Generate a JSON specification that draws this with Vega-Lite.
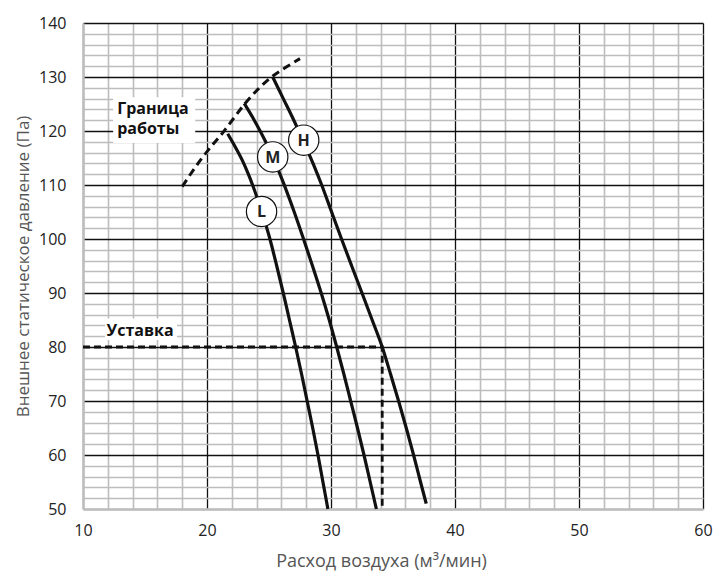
{
  "$schema": "https://vega.github.io/schema/vega-lite/v6.json",
  "width": 620,
  "height": 486,
  "autosize": {"type": "none"},
  "padding": {"left": 83, "top": 23, "right": 10, "bottom": 72},
  "background": "white",
  "config": {
    "view": {"stroke": null},
    "font": "Open Sans",
    "axis": {"labelFont": "Open Sans", "titleFont": "Open Sans"}
  },
  "datasets": {
    "curves": [
      {"s": "L", "i": 1, "x": 21.665, "y": 119.5},
      {"s": "L", "i": 2, "x": 22.29, "y": 117},
      {"s": "L", "i": 3, "x": 22.84, "y": 114.6},
      {"s": "L", "i": 4, "x": 23.335, "y": 112},
      {"s": "L", "i": 5, "x": 23.675, "y": 110},
      {"s": "L", "i": 6, "x": 24.425, "y": 105},
      {"s": "L", "i": 7, "x": 25.075, "y": 100},
      {"s": "L", "i": 8, "x": 25.625, "y": 95},
      {"s": "L", "i": 9, "x": 26.15, "y": 90},
      {"s": "L", "i": 10, "x": 26.65, "y": 85},
      {"s": "L", "i": 11, "x": 27.15, "y": 80},
      {"s": "L", "i": 12, "x": 27.625, "y": 75},
      {"s": "L", "i": 13, "x": 28.075, "y": 70},
      {"s": "L", "i": 14, "x": 28.525, "y": 65},
      {"s": "L", "i": 15, "x": 28.95, "y": 60},
      {"s": "L", "i": 16, "x": 29.35, "y": 55},
      {"s": "L", "i": 17, "x": 29.75, "y": 50},
      {"s": "M", "i": 1, "x": 23.0, "y": 125.1},
      {"s": "M", "i": 2, "x": 23.81, "y": 122},
      {"s": "M", "i": 3, "x": 24.73, "y": 118},
      {"s": "M", "i": 4, "x": 25.33, "y": 115},
      {"s": "M", "i": 5, "x": 25.885, "y": 112},
      {"s": "M", "i": 6, "x": 26.395, "y": 109},
      {"s": "M", "i": 7, "x": 27.035, "y": 105},
      {"s": "M", "i": 8, "x": 27.785, "y": 100},
      {"s": "M", "i": 9, "x": 28.51, "y": 95},
      {"s": "M", "i": 10, "x": 29.21, "y": 90},
      {"s": "M", "i": 11, "x": 29.86, "y": 85},
      {"s": "M", "i": 12, "x": 30.46, "y": 80},
      {"s": "M", "i": 13, "x": 31.035, "y": 75},
      {"s": "M", "i": 14, "x": 31.585, "y": 70},
      {"s": "M", "i": 15, "x": 32.135, "y": 65},
      {"s": "M", "i": 16, "x": 32.66, "y": 60},
      {"s": "M", "i": 17, "x": 33.16, "y": 55},
      {"s": "M", "i": 18, "x": 33.66, "y": 50},
      {"s": "H", "i": 1, "x": 25.3, "y": 130},
      {"s": "H", "i": 2, "x": 26.15, "y": 126},
      {"s": "H", "i": 3, "x": 27.0, "y": 122},
      {"s": "H", "i": 4, "x": 27.8, "y": 118},
      {"s": "H", "i": 5, "x": 28.55, "y": 114},
      {"s": "H", "i": 6, "x": 29.25, "y": 110},
      {"s": "H", "i": 7, "x": 30.05, "y": 105},
      {"s": "H", "i": 8, "x": 30.85, "y": 100},
      {"s": "H", "i": 9, "x": 31.67, "y": 95},
      {"s": "H", "i": 10, "x": 32.5, "y": 90},
      {"s": "H", "i": 11, "x": 33.32, "y": 85},
      {"s": "H", "i": 12, "x": 34.13, "y": 80},
      {"s": "H", "i": 13, "x": 34.8, "y": 75},
      {"s": "H", "i": 14, "x": 35.45, "y": 70},
      {"s": "H", "i": 15, "x": 36.07, "y": 65},
      {"s": "H", "i": 16, "x": 36.66, "y": 60},
      {"s": "H", "i": 17, "x": 37.22, "y": 55},
      {"s": "H", "i": 18, "x": 37.68, "y": 51}
    ],
    "boundary": [
      {"i": 1, "x": 18.0, "y": 109.7},
      {"i": 2, "x": 19.47, "y": 114.6},
      {"i": 3, "x": 20.4, "y": 117.3},
      {"i": 4, "x": 21.33, "y": 119.85},
      {"i": 5, "x": 22.2, "y": 122.5},
      {"i": 6, "x": 23.07, "y": 125.1},
      {"i": 7, "x": 24.1, "y": 127.7},
      {"i": 8, "x": 25.2, "y": 130},
      {"i": 9, "x": 26.3, "y": 131.7},
      {"i": 10, "x": 27.5, "y": 133.4}
    ],
    "setpoint": [
      {"i": 1, "x": 10, "y": 80},
      {"i": 2, "x": 34.13, "y": 80},
      {"i": 3, "x": 34.13, "y": 50}
    ],
    "boxes": [
      {"x": 12.43, "x2": 19.05, "y": 117.8, "y2": 126.25},
      {"x": 11.77, "x2": 17.58, "y": 81.3, "y2": 85.3}
    ],
    "labels": [
      {"x": 12.76, "y": 123.1, "t": "Граница"},
      {"x": 12.76, "y": 119.4, "t": "работы"},
      {"x": 11.9, "y": 82.0, "t": "Уставка"}
    ],
    "badges": [
      {"x": 24.4, "y": 105.1, "t": "L"},
      {"x": 25.3, "y": 115.2, "t": "M"},
      {"x": 27.8, "y": 118.3, "t": "H"}
    ]
  },
  "layer": [
    {
      "data": {"name": "boxes"},
      "mark": {"type": "rect", "fill": "white", "stroke": null},
      "encoding": {
        "x": {
          "field": "x", "type": "quantitative",
          "scale": {"domain": [10, 60], "nice": false, "zero": false},
          "axis": {
            "values": [10,12,14,16,18,20,22,24,26,28,30,32,34,36,38,40,42,44,46,48,50,52,54,56,58,60],
            "tickCount": 200,
            "format": "d",
            "labelExpr": "datum.value % 10 === 0 ? datum.label : ''",
            "labelOverlap": false,
            "grid": true,
            "gridColor": {"condition": {"test": "datum.value % 10 === 0 && datum.value > 10", "value": "#111111"}, "value": "#bdbdbd"},
            "gridWidth": {"condition": {"test": "datum.value % 10 === 0 && datum.value > 10", "value": 1.3}, "value": 1.6},
            "ticks": false,
            "domainColor": "#bdbdbd",
            "domainWidth": 2.5,
            "labelFontSize": 16,
            "labelColor": "#222222",
            "labelPadding": 13,
            "labelFlush": false,
            "title": "Расход воздуха (м³/мин)",
            "titleFontSize": 18,
            "titleFontWeight": "normal",
            "titleColor": "#555555",
            "titlePadding": 14,
            "titleX": 298
          }
        },
        "x2": {"field": "x2"},
        "y": {
          "field": "y", "type": "quantitative",
          "scale": {"domain": [50, 140], "nice": false, "zero": false},
          "axis": {
            "values": [50,52,54,56,58,60,62,64,66,68,70,72,74,76,78,80,82,84,86,88,90,92,94,96,98,100,102,104,106,108,110,112,114,116,118,120,122,124,126,128,130,132,134,136,138,140],
            "tickCount": 200,
            "format": "d",
            "labelExpr": "datum.value % 10 === 0 ? datum.label : ''",
            "labelOverlap": false,
            "grid": true,
            "gridColor": {"condition": {"test": "datum.value % 10 === 0 && datum.value > 50", "value": "#111111"}, "value": "#bdbdbd"},
            "gridWidth": {"condition": {"test": "datum.value % 10 === 0 && datum.value > 50", "value": 1.3}, "value": 1.6},
            "ticks": false,
            "domainColor": "#bdbdbd",
            "domainWidth": 2.5,
            "labelFontSize": 16,
            "labelColor": "#222222",
            "labelPadding": 17,
            "labelFlush": false,
            "title": "Внешнее статическое давление (Па)",
            "titleFontSize": 17,
            "titleFontWeight": "normal",
            "titleColor": "#555555",
            "titlePadding": 6
          }
        },
        "y2": {"field": "y2"}
      }
    },
    {
      "data": {"name": "boundary"},
      "mark": {"type": "line", "color": "#111111", "strokeWidth": 3, "strokeDash": [8, 5], "interpolate": "monotone"},
      "encoding": {
        "x": {"field": "x", "type": "quantitative"},
        "y": {"field": "y", "type": "quantitative"},
        "order": {"field": "i"}
      }
    },
    {
      "data": {"name": "setpoint"},
      "mark": {"type": "line", "color": "#111111", "strokeWidth": 2.8, "strokeDash": [7, 4]},
      "encoding": {
        "x": {"field": "x", "type": "quantitative"},
        "y": {"field": "y", "type": "quantitative"},
        "order": {"field": "i"}
      }
    },
    {
      "data": {"name": "curves"},
      "mark": {"type": "line", "color": "#111111", "strokeWidth": 3.2, "interpolate": "monotone"},
      "encoding": {
        "x": {"field": "x", "type": "quantitative"},
        "y": {"field": "y", "type": "quantitative"},
        "detail": {"field": "s"},
        "order": {"field": "i"}
      }
    },
    {
      "data": {"name": "badges"},
      "mark": {"type": "point", "shape": "circle", "filled": true, "fill": "white", "stroke": "#111111", "strokeWidth": 1.2, "size": 920, "opacity": 1},
      "encoding": {
        "x": {"field": "x", "type": "quantitative"},
        "y": {"field": "y", "type": "quantitative"}
      }
    },
    {
      "data": {"name": "badges"},
      "mark": {"type": "text", "fontSize": 16, "fontWeight": "bold", "color": "#222222", "align": "center", "baseline": "middle", "dy": 1},
      "encoding": {
        "x": {"field": "x", "type": "quantitative"},
        "y": {"field": "y", "type": "quantitative"},
        "text": {"field": "t"}
      }
    },
    {
      "data": {"name": "labels"},
      "mark": {"type": "text", "fontSize": 16, "fontWeight": "bold", "color": "#111111", "align": "left", "baseline": "alphabetic"},
      "encoding": {
        "x": {"field": "x", "type": "quantitative"},
        "y": {"field": "y", "type": "quantitative"},
        "text": {"field": "t"}
      }
    }
  ]
}
